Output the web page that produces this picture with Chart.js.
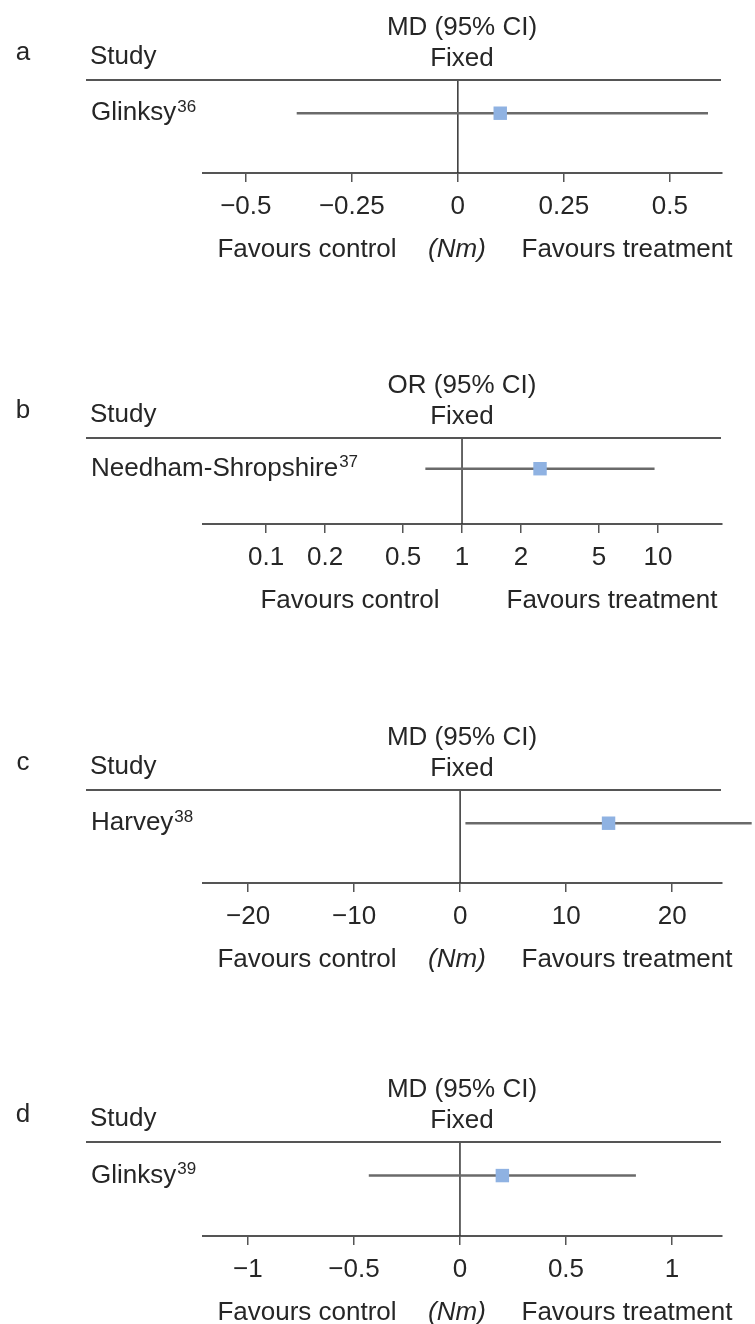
<!DOCTYPE html>
<html>
<head>
<meta charset="utf-8">
<script src="https://cdn.jsdelivr.net/npm/chart.js@4.4.1/dist/chart.umd.min.js"></script>
<style>
  html, body { margin: 0; padding: 0; background: #fff; }
  #wrap { position: relative; width: 755px; height: 1324px; overflow: hidden; }
  canvas { position: absolute; left: 0; }
</style>
</head>
<body>
<div id="wrap"></div>
<script>
// values
const panelLetters = ['a', 'b', 'c', 'd'];
const effectLabels = ['MD (95% CI)', 'OR (95% CI)', 'MD (95% CI)', 'MD (95% CI)'];
const modelLabels = ['Fixed', 'Fixed', 'Fixed', 'Fixed'];
const studyNames = ['Glinksy', 'Needham-Shropshire', 'Harvey', 'Glinksy'];
const studyRefs = ['36', '37', '38', '39'];
const estimates = [0.10, 2.5, 14.0, 0.20];
const ciLower = [-0.38, 0.65, 0.5, -0.43];
const ciUpper = [0.59, 9.6, 27.5, 0.83];
const nullValues = [0, 1, 0, 0];
const axisMin = [-0.601, 0.0477, -24.25, -1.212];
const axisMax = [0.623, 21.2, 24.7, 1.236];
const tickValues = [
  [-0.5, -0.25, 0, 0.25, 0.5],
  [0.1, 0.2, 0.5, 1, 2, 5, 10],
  [-20, -10, 0, 10, 20],
  [-1, -0.5, 0, 0.5, 1]
];
const scaleTypes = ['linear', 'logarithmic', 'linear', 'linear'];
const unitLabels = ['(Nm)', '', '(Nm)', '(Nm)'];
const leftLabel = 'Favours control';
const rightLabel = 'Favours treatment';

// layout (page pixels)
const topRules = [80, 438, 790, 1142];
const axisLines = [173, 524, 883, 1236];
const favLeftX = [307, 350, 307, 307];
const favRightX = [627, 612, 627, 627];

const FONT = '"Liberation Sans", Arial, Helvetica, sans-serif';
const TEXT = '#262626';
const LINE = '#555555';
const wrap = document.getElementById('wrap');

function fmt(v) {
  return v < 0 ? '\u2212' + Math.abs(v) : String(v);
}

panelLetters.forEach((letter, i) => {
  const h = axisLines[i] - topRules[i];
  const cv = document.createElement('canvas');
  cv.width = 755;
  cv.height = 90 + h + 110;
  cv.style.top = (topRules[i] - 90) + 'px';
  wrap.appendChild(cv);

  //textos do painel
  const decor = {
    id: 'decor' + i,
    afterDraw(chart) {
      const ctx = chart.ctx;
      const area = chart.chartArea;
      const top = area.top;
      const rowY = chart.scales.y.getPixelForValue(0);
      ctx.save();
      ctx.strokeStyle = LINE;
      ctx.lineWidth = 2;
      ctx.beginPath();
      ctx.moveTo(86, top);
      ctx.lineTo(721, top);
      ctx.stroke();

      ctx.fillStyle = TEXT;
      ctx.textBaseline = 'middle';
      ctx.font = '26px ' + FONT;
      ctx.textAlign = 'center';
      ctx.fillText(letter, 23, top - 27);
      ctx.fillText(effectLabels[i], 462, top - 52);
      ctx.fillText(modelLabels[i], 462, top - 21);
      ctx.textAlign = 'left';
      ctx.fillText('Study', 90, top - 23);
      ctx.fillText(studyNames[i], 91, rowY);
      const w = ctx.measureText(studyNames[i]).width;
      ctx.font = '17px ' + FONT;
      ctx.fillText(studyRefs[i], 91 + w + 1, rowY - 6);

      const fy = area.bottom + 77;
      ctx.font = '26px ' + FONT;
      ctx.textAlign = 'center';
      ctx.fillText(leftLabel, favLeftX[i], fy);
      ctx.fillText(rightLabel, favRightX[i], fy);
      if (unitLabels[i]) {
        ctx.font = 'italic 26px ' + FONT;
        ctx.fillText(unitLabels[i], 457, fy);
      }
      ctx.restore();
    }
  };

  new Chart(cv, {
    type: 'scatter',
    data: {
      datasets: [
        {
          data: [{ x: estimates[i], y: 0 }],
          pointStyle: 'rect',
          pointRadius: 9.5,
          pointHoverRadius: 9.5,
          backgroundColor: '#8fb2e2',
          borderWidth: 0,
          clip: false
        },
        {
          type: 'line',
          data: [{ x: ciLower[i], y: 0 }, { x: ciUpper[i], y: 0 }],
          borderColor: '#6a6a6a',
          borderWidth: 2.5,
          pointRadius: 0,
          clip: false
        },
        {
          type: 'line',
          data: [{ x: nullValues[i], y: -1.8 }, { x: nullValues[i], y: 1 }],
          borderColor: '#333333',
          borderWidth: 1.5,
          pointRadius: 0
        }
      ]
    },
    options: {
      responsive: false,
      animation: false,
      events: [],
      layout: { padding: { top: 90, left: 203, right: 33, bottom: 50 } },
      plugins: { legend: { display: false }, tooltip: { enabled: false } },
      scales: {
        x: {
          type: scaleTypes[i],
          min: axisMin[i],
          max: axisMax[i],
          position: 'bottom',
          afterBuildTicks: s => { s.ticks = tickValues[i].map(v => ({ value: v })); },
          afterFit: s => { s.height = 60; },
          grid: { drawOnChartArea: false, drawTicks: true, tickLength: 9, color: LINE, lineWidth: 1.5 },
          border: { display: true, color: LINE, width: 2 },
          ticks: {
            autoSkip: false,
            maxRotation: 0,
            padding: 9,
            color: TEXT,
            font: { family: FONT, size: 26 },
            callback: v => fmt(v)
          }
        },
        y: { display: false, min: -1.8, max: 1 }
      }
    },
    plugins: [decor]
  });
});
</script>
</body>
</html>
